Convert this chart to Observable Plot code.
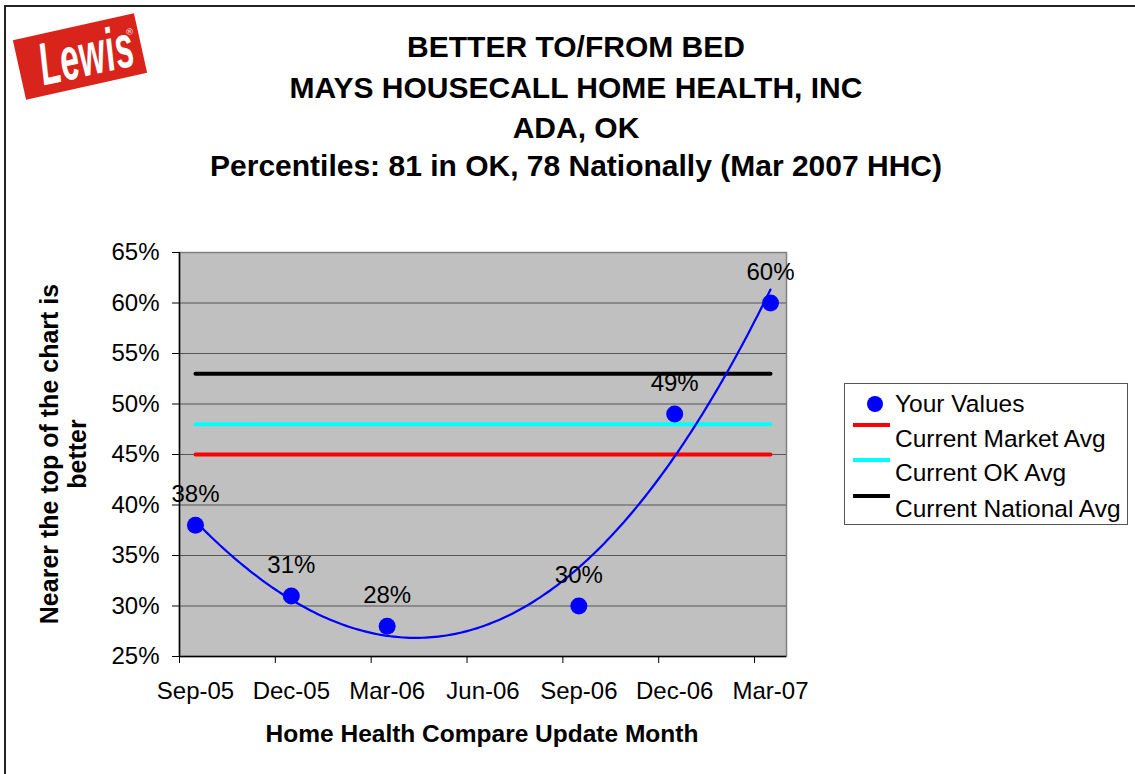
<!DOCTYPE html>
<html>
<head>
<meta charset="utf-8">
<script src="https://cdn.jsdelivr.net/npm/d3@7"></script>
<script src="https://cdn.jsdelivr.net/npm/@observablehq/plot@0.6"></script>
<style>
  html, body { margin: 0; padding: 0; background: #fff; }
  #wrap { position: relative; width: 1135px; height: 774px; overflow: hidden; font-family: "Liberation Sans", Arial, sans-serif; color: #000; }
  #chart { position: absolute; left: 0; top: 0; }
  .title { position: absolute; left: 0; width: 1152px; text-align: center; font-weight: bold; font-size: 30px; white-space: nowrap; line-height: 1; transform: translateY(-50%); }
  #border-top { position: absolute; left: 4px; top: 5px; width: 1131px; height: 2px; background: #222; }
  #border-left { position: absolute; left: 4px; top: 5px; width: 2px; height: 769px; background: #222; }
  #logo { position: absolute; left: 18px; top: 26px; width: 124px; height: 61px; background: #d9241c; transform: rotate(-12.5deg); }
  #logo .t { position: absolute; left: -7px; top: 1px; width: 124px; text-align: center; color: #fff; font-weight: bold; font-style: italic; font-size: 60px; line-height: 60px; transform: scaleX(0.56); letter-spacing: 1px; }
  #logo .r { position: absolute; right: 5px; top: 12px; color: #fff; font-size: 9px; }
  #legend { position: absolute; left: 844px; top: 383px; width: 282px; height: 140px; border: 1px solid #555; background: #fff; }
  .lg-text { position: absolute; left: 50px; font-size: 24.5px; line-height: 1; white-space: nowrap; transform: translateY(-50%); }
  .lg-line { position: absolute; left: 8px; width: 37px; height: 4px; transform: translateY(-50%); }
  .lg-dot { position: absolute; left: 22px; width: 16px; height: 16px; border-radius: 50%; background: #0000ff; transform: translateY(-50%); }
  #ytitle { position: absolute; left: 63px; top: 454px; width: 500px; text-align: center; font-weight: bold; font-size: 25px; line-height: 28px; transform: translate(-50%, -50%) rotate(-90deg); white-space: nowrap; }
  #xtitle { position: absolute; left: 482px; top: 734px; font-weight: bold; font-size: 24.5px; line-height: 1; transform: translate(-50%, -50%); white-space: nowrap; }
</style>
</head>
<body>
<div id="wrap">
  <div id="chart"></div>
  <div id="border-top"></div>
  <div id="border-left"></div>
  <div id="logo"><div class="t">Lewis</div><div class="r">®</div></div>
  <div class="title" style="top:47px">BETTER TO/FROM BED</div>
  <div class="title" style="top:88px">MAYS HOUSECALL HOME HEALTH, INC</div>
  <div class="title" style="top:128px">ADA, OK</div>
  <div class="title" style="top:166px">Percentiles: 81 in OK, 78 Nationally (Mar 2007 HHC)</div>
  <div id="ytitle">Nearer the top of the chart is<br>better</div>
  <div id="xtitle">Home Health Compare Update Month</div>
  <div id="legend"></div>
</div>
<script>
// ---- data ----
const axisMonths = ["Sep-05", "Dec-05", "Mar-06", "Jun-06", "Sep-06", "Dec-06", "Mar-07"];
const pointMonths = ["Sep-05", "Dec-05", "Mar-06", "Sep-06", "Dec-06", "Mar-07"];
const yourValues = [0.38, 0.31, 0.28, 0.30, 0.49, 0.60];
const marketAvg = 0.45;
const okAvg = 0.48;
const nationalAvg = 0.53;
const yTicks = [0.25, 0.30, 0.35, 0.40, 0.45, 0.50, 0.55, 0.60, 0.65];
const seriesNames = ["Your Values", "Current Market Avg", "Current OK Avg", "Current National Avg"];
const seriesColors = ["#0000ff", "#ff0000", "#00ffff", "#000000"];

// ---- derived ----
const parse = d3.timeParse("%b-%y");
const start = parse(axisMonths[0]);
const monthIndex = m => d3.timeMonth.count(start, parse(m));
const points = pointMonths.map((m, i) => ({month: m, x: monthIndex(m), y: yourValues[i]}));
const xMin = -0.5, xMax = monthIndex(axisMonths[axisMonths.length - 1]) + 0.5;
const labelTicks = axisMonths.map(monthIndex);
const boundaryTicks = labelTicks.map(v => v - 0.5);
const firstX = points[0].x, lastX = points[points.length - 1].x;
const avgRows = [
  {name: seriesNames[1], v: marketAvg, c: seriesColors[1]},
  {name: seriesNames[2], v: okAvg, c: seriesColors[2]},
  {name: seriesNames[3], v: nationalAvg, c: seriesColors[3]}
].flatMap(r => [{...r, x: firstX}, {...r, x: lastX}]);

// polynomial (order 3) least-squares trendline computed from the points
function polyfit(xs, ys, order) {
  const n = order + 1;
  const A = Array.from({length: n}, () => new Array(n + 1).fill(0));
  for (let r = 0; r < n; r++) {
    for (let c = 0; c < n; c++) A[r][c] = d3.sum(xs, x => Math.pow(x, r + c));
    A[r][n] = d3.sum(xs, (x, i) => Math.pow(x, r) * ys[i]);
  }
  for (let i = 0; i < n; i++) {
    let p = i;
    for (let k = i + 1; k < n; k++) if (Math.abs(A[k][i]) > Math.abs(A[p][i])) p = k;
    [A[i], A[p]] = [A[p], A[i]];
    for (let k = i + 1; k < n; k++) {
      const f = A[k][i] / A[i][i];
      for (let j = i; j <= n; j++) A[k][j] -= f * A[i][j];
    }
  }
  const coef = new Array(n).fill(0);
  for (let i = n - 1; i >= 0; i--) {
    let s = A[i][n];
    for (let j = i + 1; j < n; j++) s -= A[i][j] * coef[j];
    coef[i] = s / A[i][i];
  }
  return x => coef.reduce((acc, c, i) => acc + c * Math.pow(x, i), 0);
}
const fit = polyfit(points.map(d => d.x), points.map(d => d.y), 3);
const trend = d3.range(firstX, lastX + 0.001, 0.1).map(x => ({x, y: fit(x)}));

const chart = Plot.plot({
  width: 1135,
  height: 774,
  marginLeft: 179,
  marginRight: 349,
  marginTop: 252,
  marginBottom: 118,
  style: {fontFamily: "'Liberation Sans', Arial, sans-serif", fontSize: "24px", background: "transparent", color: "#000"},
  x: {domain: [xMin, xMax]},
  y: {domain: [yTicks[0], yTicks[yTicks.length - 1]]},
  marks: [
    Plot.frame({fill: "#c0c0c0", stroke: "#808080", strokeWidth: 1.5}),
    Plot.ruleY(yTicks.slice(1, -1), {stroke: "#555", strokeWidth: 1.2}),
    Plot.ruleX([xMin], {stroke: "#000", strokeWidth: 1.5}),
    Plot.ruleY([yTicks[0]], {stroke: "#000", strokeWidth: 1.5}),
    Plot.axisY({ticks: yTicks, tickFormat: d3.format(".0%"), tickSize: 7, tickPadding: 13, label: null, fontSize: 24, stroke: "#000", strokeOpacity: 1}),
    Plot.axisX({ticks: boundaryTicks, tickFormat: () => "", tickSize: 7, label: null, strokeOpacity: 1}),
    Plot.axisX({ticks: labelTicks, tickFormat: (d, i) => axisMonths[i], tickSize: 0, tickPadding: 25, label: null, fontSize: 24}),
    Plot.line(avgRows, {x: "x", y: "v", z: "name", stroke: "c", strokeWidth: 4}),
    Plot.line(trend, {x: "x", y: "y", stroke: "#0000ff", strokeWidth: 2.2, curve: "linear"}),
    Plot.dot(points, {x: "x", y: "y", r: 8.5, fill: "#0000ff", stroke: "none"}),
    Plot.text(points, {x: "x", y: "y", text: d => d3.format(".0%")(d.y), dy: -31, fontSize: 24, fill: "#000"})
  ]
});
document.getElementById("chart").appendChild(chart);

// legend
const lg = document.getElementById("legend");
const rowsY = [20, 55, 89, 125];
const lineY = [0, 41, 76, 112];
seriesNames.forEach((name, i) => {
  const t = document.createElement("div");
  t.className = "lg-text";
  t.style.top = rowsY[i] + "px";
  t.textContent = name;
  lg.appendChild(t);
  if (i === 0) {
    const d = document.createElement("div");
    d.className = "lg-dot";
    d.style.top = rowsY[i] + "px";
    lg.appendChild(d);
  } else {
    const l = document.createElement("div");
    l.className = "lg-line";
    l.style.top = lineY[i] + "px";
    l.style.background = seriesColors[i];
    lg.appendChild(l);
  }
});
</script>
</body>
</html>
